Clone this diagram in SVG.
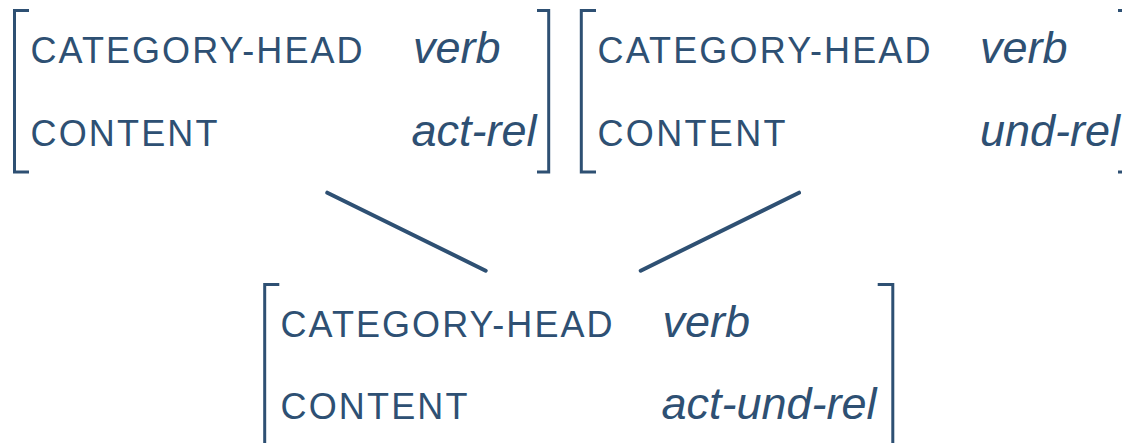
<svg xmlns="http://www.w3.org/2000/svg" width="1122" height="443" viewBox="0 0 1122 443">
<style>
.br{fill:none;stroke:#2e5073;stroke-width:3}
.k{font-family:"Liberation Sans",Arial,sans-serif;font-size:36px;fill:#2e5073}
.v{font-family:"Liberation Sans",Arial,sans-serif;font-size:45px;font-style:italic;fill:#2e5073}
.c{stroke:#2e5073;stroke-width:4;stroke-linecap:round}
</style>
<rect width="1122" height="443" fill="#ffffff"/>
<g id="avm1">
<path class="br" d="M29,10.5 H14.5 V172 H29"/>
<path class="br" d="M537,10.5 H548.7 V172 H537"/>
<text class="k" x="30.5" y="63.3" textLength="332" lengthAdjust="spacing">CATEGORY-HEAD</text>
<text class="k" x="30.5" y="146" textLength="187" lengthAdjust="spacing">CONTENT</text>
<text class="v" x="413" y="63.3">verb</text>
<text class="v" x="411.5" y="146">act-rel</text>
</g>
<g id="avm2">
<path class="br" d="M596,10.5 H581.3 V172 H596"/>
<path class="br" d="M1118,10.5 H1124 V172 H1118"/>
<text class="k" x="597.5" y="63.3" textLength="333" lengthAdjust="spacing">CATEGORY-HEAD</text>
<text class="k" x="597.5" y="146" textLength="188" lengthAdjust="spacing">CONTENT</text>
<text class="v" x="980" y="63.3">verb</text>
<text class="v" x="980" y="146">und-rel</text>
</g>
<g id="avm3">
<path class="br" d="M279.3,284.5 H264.7 V446"/>
<path class="br" d="M877.7,284.5 H892.8 V446"/>
<text class="k" x="280.5" y="336.7" textLength="332" lengthAdjust="spacing">CATEGORY-HEAD</text>
<text class="k" x="280.5" y="419" textLength="187" lengthAdjust="spacing">CONTENT</text>
<text class="v" x="662.5" y="336.7">verb</text>
<text class="v" x="661.5" y="419">act-und-rel</text>
</g>
<g id="connectors">
<line class="c" x1="327.3" y1="192.7" x2="485.7" y2="270.7"/>
<line class="c" x1="799" y1="192.7" x2="640.7" y2="270.7"/>
</g>
</svg>
